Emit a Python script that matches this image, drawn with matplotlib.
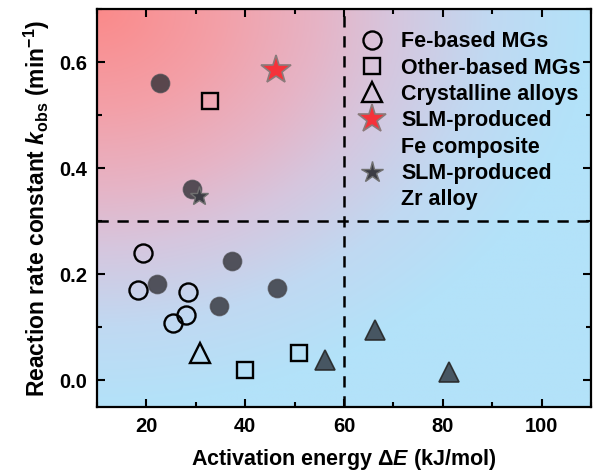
import numpy as np
import matplotlib.pyplot as plt
from matplotlib.colors import LinearSegmentedColormap
from matplotlib.ticker import MultipleLocator
from matplotlib.lines import Line2D

plt.rcParams['font.family'] = ['Liberation Sans', 'DejaVu Sans']
plt.rcParams['font.weight'] = 'bold'
plt.rcParams['mathtext.fontset'] = 'custom'
plt.rcParams['mathtext.rm'] = 'Liberation Sans:bold'
plt.rcParams['mathtext.it'] = 'Liberation Sans:bold:italic'
plt.rcParams['mathtext.bf'] = 'Liberation Sans:bold'

# data
fe_mg_x = [18.3, 19.4, 25.3, 28.0, 28.4]
fe_mg_y = [0.171, 0.240, 0.108, 0.123, 0.167]
fe_mg_fill_x = [22.7, 29.2, 22.2, 37.3, 34.6, 46.5]
fe_mg_fill_y = [0.560, 0.360, 0.182, 0.226, 0.140, 0.175]
other_x = [32.8, 39.9, 50.9]
other_y = [0.526, 0.019, 0.052]
cryst_x = [30.9]
cryst_y = [0.052]
cryst_fill_x = [56.1, 66.2, 81.2]
cryst_fill_y = [0.038, 0.096, 0.016]
slm_fe_x = [46.2]
slm_fe_y = [0.586]
slm_zr_x = [30.7]
slm_zr_y = [0.347]

fig = plt.figure(figsize=(5.97, 4.75), dpi=100)
ax = fig.add_axes([0.1625, 0.1432, 0.8275, 0.8378])
xmin, xmax, ymin, ymax = 10, 110, -0.05, 0.7

# background gradient (red top-left -> light blue)
gx, gy = np.meshgrid(np.linspace(0, 1, 400), np.linspace(1, 0, 400))
d = np.sqrt(gx**2 + (1 - gy)**2)
t = np.clip(d, 0, 1)
cmap = LinearSegmentedColormap.from_list('bg', [
    (0.0, '#fb8a8a'), (0.25, '#f3a0a8'), (0.45, '#e6b4c6'),
    (0.6, '#d6c6de'), (0.8, '#c0d9f2'), (1.0, '#b3e2f9')])
ax.imshow(t, extent=[xmin, xmax, ymin, ymax], origin='upper', aspect='auto', cmap=cmap, zorder=0)

ax.axhline(0.3, color='black', ls=(0, (4.5, 3.5)), lw=1.8, zorder=1)
ax.axvline(60, color='black', ls=(0, (4.5, 3.5)), lw=1.8, zorder=1)

ax.plot(fe_mg_x, fe_mg_y, 'o', ms=13, mfc='none', mec='black', mew=1.7, zorder=3)
ax.plot(fe_mg_fill_x, fe_mg_fill_y, 'o', ms=13, mfc='#2e2e34', mec='#4a4a50', mew=1.2, alpha=0.78, zorder=3)
ax.plot(other_x, other_y, 's', ms=11, mfc='none', mec='black', mew=1.7, zorder=3)
ax.plot(cryst_x, cryst_y, '^', ms=15, mfc='none', mec='black', mew=1.7, zorder=3)
ax.plot(cryst_fill_x, cryst_fill_y, '^', ms=15, mfc='#3b4752', mec='#262626', mew=1.2, alpha=0.9, zorder=3)
ax.plot(slm_fe_x, slm_fe_y, '*', ms=22, mfc='#f5333a', mec='#8a7a7a', mew=1.2, zorder=4)
ax.plot(slm_zr_x, slm_zr_y, '*', ms=14, mfc='#3c3c44', mec='#707070', mew=1.0, zorder=4)

ax.set_xlim(xmin, xmax)
ax.set_ylim(ymin, ymax)
ax.xaxis.set_major_locator(MultipleLocator(20))
ax.xaxis.set_minor_locator(MultipleLocator(10))
ax.yaxis.set_major_locator(MultipleLocator(0.2))
ax.yaxis.set_minor_locator(MultipleLocator(0.1))
ax.tick_params(which='both', direction='in', top=True, right=True, width=1.5)
ax.tick_params(which='major', length=6, labelsize=14.5, pad=7)
ax.tick_params(which='minor', length=3.5)
for lab in ax.get_xticklabels() + ax.get_yticklabels():
    lab.set_fontweight('bold')
for s in ax.spines.values():
    s.set_linewidth(1.6)

ax.set_xlabel('Activation energy Δ$\\it{E}$ (kJ/mol)', fontsize=15.5, fontweight='bold', labelpad=8)
ax.set_ylabel('Reaction rate constant $\\it{k}$$_{\\rm{obs}}$ (min$^{\\rm{-1}}$)', fontsize=16.5, fontweight='bold', labelpad=5)

blank = Line2D([], [], ls='none', marker='none')
handles = [
    Line2D([], [], ls='none', marker='o', ms=13, mfc='none', mec='black', mew=1.7),
    Line2D([], [], ls='none', marker='s', ms=11, mfc='none', mec='black', mew=1.7),
    Line2D([], [], ls='none', marker='^', ms=15, mfc='none', mec='black', mew=1.7),
    Line2D([], [], ls='none', marker='*', ms=21, mfc='#f5333a', mec='#8a7a7a', mew=1.2),
    blank,
    Line2D([], [], ls='none', marker='*', ms=16, mfc='#3c3c44', mec='#707070', mew=1.0),
    blank,
]
labels = ['Fe-based MGs', 'Other-based MGs', 'Crystalline alloys',
          'SLM-produced', 'Fe composite', 'SLM-produced', 'Zr alloy']
leg = ax.legend(handles, labels, loc='upper left', bbox_to_anchor=(0.518, 0.966), frameon=False,
                prop={'weight': 'bold', 'size': 15.5}, handletextpad=0.85, labelspacing=0.25,
                handlelength=1.0, borderaxespad=0.0)

fig.savefig('out.png', dpi=100)
